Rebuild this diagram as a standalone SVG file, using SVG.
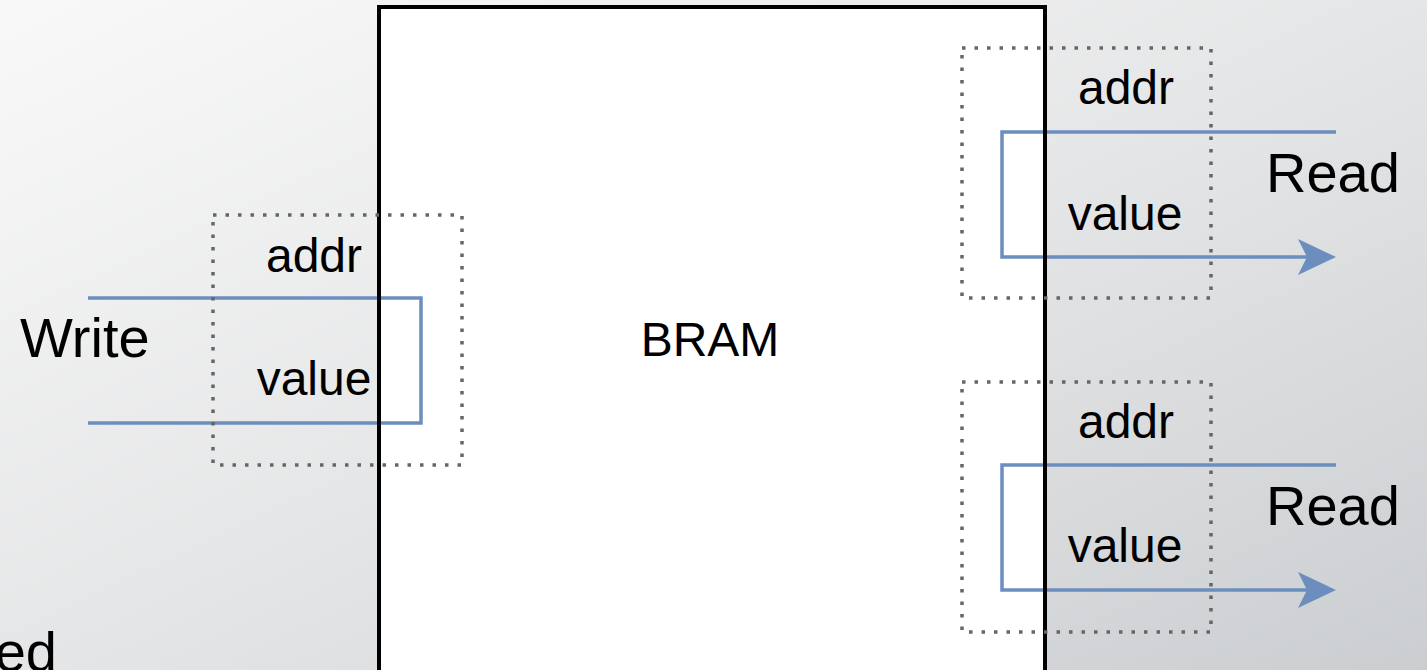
<svg xmlns="http://www.w3.org/2000/svg" width="1427" height="670" viewBox="0 0 1427 670">
<defs>
<linearGradient id="bg" x1="0" y1="0" x2="1" y2="1">
<stop offset="0" stop-color="#f9f9f9"/>
<stop offset="0.5" stop-color="#e5e6e7"/>
<stop offset="1" stop-color="#cbced1"/>
</linearGradient>
<marker id="arr" markerUnits="userSpaceOnUse" markerWidth="38" markerHeight="36" viewBox="0 0 38 36" refX="9" refY="18" orient="auto">
<path d="M0,0 L38,18 L0,36 L9,18 Z" fill="#6c8ebf"/>
</marker>
<style>
text{font-family:"Liberation Sans",Arial,sans-serif;fill:#000}
.lbl{font-size:48px;text-anchor:middle}
.big{font-size:56px}
.dot{fill:none;stroke:#666;stroke-width:3.5;stroke-dasharray:3.5 9}
.wire{fill:none;stroke:#6c8ebf;stroke-width:3.5}
</style>
</defs>
<rect width="1427" height="670" fill="url(#bg)"/>
<text class="big" x="57" y="671" text-anchor="end">ed</text>
<g id="bram-fill"><rect x="379" y="7" width="666" height="680" fill="#fff"/></g>
<g id="connectors">
<path class="wire" d="M88,298 H421 V423 H88"/>
<path class="wire" d="M1336,132 H1002 V257 H1307" marker-end="url(#arr)"/>
<path class="wire" d="M1336,465 H1002 V590 H1307" marker-end="url(#arr)"/>
</g>
<g id="bram">
<rect x="379" y="7" width="666" height="680" fill="none" stroke="#000" stroke-width="4"/>
<text class="lbl" x="710" y="356">BRAM</text>
</g>
<g id="write-port">
<rect class="dot" x="213" y="215" width="249" height="250"/>
<text class="lbl" x="314" y="272">addr</text>
<text class="lbl" x="314" y="395">value</text>
<text class="big" x="20" y="357">Write</text>
</g>
<g id="read-port-1">
<rect class="dot" x="962" y="48" width="249" height="250"/>
<text class="lbl" x="1126" y="104">addr</text>
<text class="lbl" x="1125" y="230">value</text>
<text class="big" x="1266" y="192">Read</text>
</g>
<g id="read-port-2">
<rect class="dot" x="962" y="382" width="249" height="250"/>
<text class="lbl" x="1126" y="438">addr</text>
<text class="lbl" x="1125" y="562">value</text>
<text class="big" x="1266" y="525">Read</text>
</g>
</svg>
